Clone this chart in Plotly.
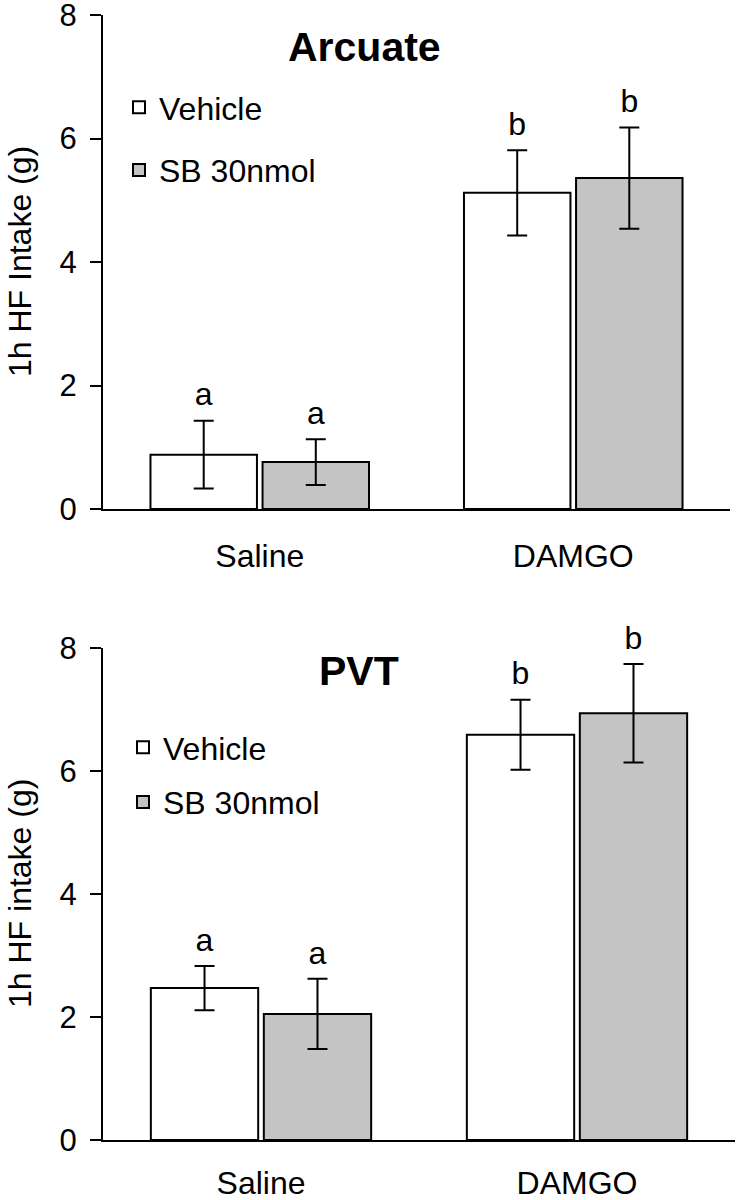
import plotly.graph_objects as go

# ---- data ----
categories = ["Saline", "DAMGO"]
series_names = ["Vehicle", "SB 30nmol"]

arc_vehicle = [0.88, 5.12]
arc_vehicle_err = [0.55, 0.69]
arc_sb = [0.76, 5.36]
arc_sb_err = [0.37, 0.82]
arc_letters_vehicle = ["a", "b"]
arc_letters_sb = ["a", "b"]

pvt_vehicle = [2.47, 6.59]
pvt_vehicle_err = [0.36, 0.57]
pvt_sb = [2.05, 6.94]
pvt_sb_err = [0.57, 0.80]
pvt_letters_vehicle = ["a", "b"]
pvt_letters_sb = ["a", "b"]

y_ticks = [0, 2, 4, 6, 8]

# ---- style ----
FONT = "Liberation Sans, Arial, sans-serif"
W, H = 736, 1200
ML, MR = 103, 1
PW = W - ML - MR
fills = ["#ffffff", "#c4c4c4"]
TICKF = 31
LABF = 32

fig = go.Figure()

panels = [
    dict(x="x", y="y", legend="legend",
         vals=[arc_vehicle, arc_sb], errs=[arc_vehicle_err, arc_sb_err],
         letters=[arc_letters_vehicle, arc_letters_sb]),
    dict(x="x2", y="y2", legend="legend2",
         vals=[pvt_vehicle, pvt_sb], errs=[pvt_vehicle_err, pvt_sb_err],
         letters=[pvt_letters_vehicle, pvt_letters_sb]),
]

for p in panels:
    for i, name in enumerate(series_names):
        fig.add_trace(go.Bar(
            x=categories, y=p["vals"][i], name=name,
            xaxis=p["x"], yaxis=p["y"], legend=p["legend"],
            legendgroup=p["legend"] + name,
            offsetgroup=str(i), alignmentgroup=p["x"],
            marker=dict(color=fills[i], line=dict(color="black", width=2)),
            error_y=dict(type="data", array=p["errs"][i], visible=True,
                         color="black", thickness=2, width=10),
            showlegend=True,
        ))
    for i, name in enumerate(series_names):
        tops = [v + e for v, e in zip(p["vals"][i], p["errs"][i])]
        fig.add_trace(go.Scatter(
            x=categories, y=tops, mode="markers+text", text=p["letters"][i],
            textposition="top center", cliponaxis=False,
            textfont=dict(family=FONT, size=LABF, color="black"),
            marker=dict(size=10, opacity=0),
            xaxis=p["x"], yaxis=p["y"], offsetgroup=str(i),
            alignmentgroup=p["x"], showlegend=False, hoverinfo="skip",
        ))

axis_common = dict(showgrid=False, zeroline=False, showline=True,
                   linecolor="black", linewidth=2, ticklabeloverflow="allow",
                   tickfont=dict(family=FONT, size=TICKF, color="black"))
xtick_font = dict(family=FONT, size=LABF, color="black")

fig.update_layout(
    width=W, height=H,
    margin=dict(l=ML, r=MR, t=0, b=0, autoexpand=False),
    paper_bgcolor="white", plot_bgcolor="white",
    barmode="group", bargap=0.285, bargroupgap=0.05,
    scattermode="group", scattergap=0.285,
    font=dict(family=FONT, color="black"),
    hovermode=False,
    xaxis=dict(domain=[0, 627 / PW], anchor="y", range=[-0.5, 1.5],
               ticks="", ticklabelstandoff=18, **{**axis_common, "tickfont": xtick_font}),
    yaxis=dict(domain=[1 - 509 / H, 1 - 15 / H], anchor="x", range=[0, 8],
               tickvals=y_ticks, ticks="outside", ticklen=11, tickwidth=2,
               tickcolor="black", ticklabelstandoff=7, **axis_common),
    xaxis2=dict(domain=[0, 1], anchor="y2", range=[-0.5, 1.5],
                ticks="", ticklabelstandoff=14, **{**axis_common, "tickfont": xtick_font}),
    yaxis2=dict(domain=[1 - 1140 / H, 1 - 648 / H], anchor="x2", range=[0, 8],
                tickvals=y_ticks, ticks="outside", ticklen=11, tickwidth=2,
                tickcolor="black", ticklabelstandoff=7, **axis_common),
    legend=dict(x=(119 - ML) / PW, y=1 - 80 / H, xanchor="left", yanchor="top",
                bgcolor="rgba(0,0,0,0)", tracegroupgap=18,
                font=dict(family=FONT, size=LABF, color="black")),
    legend2=dict(x=(123 - ML) / PW, y=1 - 720 / H, xanchor="left", yanchor="top",
                 bgcolor="rgba(0,0,0,0)", tracegroupgap=10,
                 font=dict(family=FONT, size=LABF, color="black")),
    annotations=[
        dict(text="<b>Arcuate</b>", xref="paper", yref="paper",
             x=(364 - ML) / PW, y=1 - 47 / H, xanchor="center", yanchor="middle",
             showarrow=False, font=dict(family=FONT, size=41, color="black")),
        dict(text="<b>PVT</b>", xref="paper", yref="paper",
             x=(359 - ML) / PW, y=1 - 671 / H, xanchor="center", yanchor="middle",
             showarrow=False, font=dict(family=FONT, size=41, color="black")),
        dict(text="1h HF Intake (g)", xref="paper", yref="paper",
             x=(20 - ML) / PW, y=1 - 262 / H, xanchor="center", yanchor="middle",
             showarrow=False, textangle=-90,
             font=dict(family=FONT, size=LABF, color="black")),
        dict(text="1h HF intake (g)", xref="paper", yref="paper",
             x=(20 - ML) / PW, y=1 - 894 / H, xanchor="center", yanchor="middle",
             showarrow=False, textangle=-90,
             font=dict(family=FONT, size=LABF, color="black")),
    ],
)

fig.write_html("out.html", config={"displayModeBar": False, "staticPlot": True},
               post_script="document.body.style.margin='0';")
